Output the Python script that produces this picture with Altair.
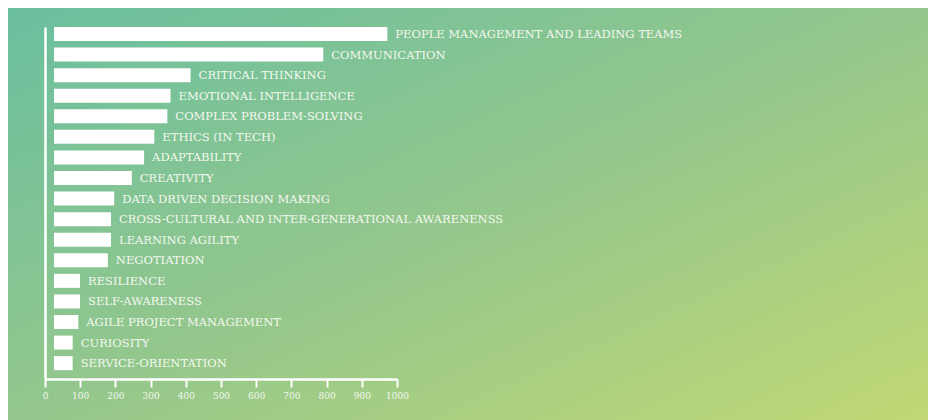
import altair as alt
import pandas as pd

skills = [
    "PEOPLE MANAGEMENT AND LEADING TEAMS",
    "COMMUNICATION",
    "CRITICAL THINKING",
    "EMOTIONAL INTELLIGENCE",
    "COMPLEX PROBLEM-SOLVING",
    "ETHICS (IN TECH)",
    "ADAPTABILITY",
    "CREATIVITY",
    "DATA DRIVEN DECISION MAKING",
    "CROSS-CULTURAL AND INTER-GENERATIONAL AWARENENSS",
    "LEARNING AGILITY",
    "NEGOTIATION",
    "RESILIENCE",
    "SELF-AWARENESS",
    "AGILE PROJECT MANAGEMENT",
    "CURIOSITY",
    "SERVICE-ORIENTATION",
]
values = [947, 765, 388, 331, 322, 285, 256, 221, 171, 162, 162, 153, 74, 74, 69, 53, 53]
tick_values = [0, 100, 200, 300, 400, 500, 600, 700, 800, 900, 1000]

df = pd.DataFrame({"skill": skills, "value": values})

W, H = 352, 352
PAD = {"left": 37, "top": 19, "right": 531, "bottom": 49}

gradient = alt.LinearGradient(
    gradient="linear",
    stops=[
        alt.GradientStop(color="#6abf9f", offset=0),
        alt.GradientStop(color="#94c78c", offset=0.5),
        alt.GradientStop(color="#c2d874", offset=1),
    ],
    x1=0, y1=0, x2=1, y2=1,
)

bg = alt.Chart(pd.DataFrame({"k": [0]})).mark_rect(color=gradient).encode(
    x=alt.value(-PAD["left"]),
    x2=alt.value(W + PAD["right"]),
    y=alt.value(-PAD["top"]),
    y2=alt.value(H + PAD["bottom"]),
)

x_axis = alt.Axis(
    values=tick_values,
    format="d",
    labelOverlap=False,
    labelFlush=False,
    title=None,
    grid=False,
    zindex=2,
    domainColor="white",
    domainWidth=2.5,
    tickColor="white",
    tickWidth=2,
    tickSize=8,
    labelColor="#f4f8ee",
    labelFont="DejaVu Serif",
    labelFontSize=9,
    labelPadding=4,
)
y_axis = alt.Axis(
    title=None,
    labels=False,
    ticks=False,
    grid=False,
    zindex=2,
    domainColor="white",
    domainWidth=2.5,
)

x_enc = alt.X("value:Q", scale=alt.Scale(domain=[0, 1000], nice=False), axis=x_axis)
y_enc = alt.Y(
    "skill:N",
    sort=skills,
    scale=alt.Scale(paddingInner=0.32, paddingOuter=0.215, align=0),
    axis=y_axis,
)

bars = alt.Chart(df).mark_bar(color="white", xOffset=9).encode(x=x_enc, y=y_enc)

labels = alt.Chart(df).mark_text(
    align="left",
    baseline="middle",
    dx=17,
    dy=1,
    font="DejaVu Serif",
    fontSize=11.5,
    color="#f4f8ef",
).encode(x=x_enc, y=y_enc, text="skill:N")

chart = (
    alt.layer(bg, bars, labels)
    .properties(
        width=W,
        height=H,
        padding=PAD,
        autosize=alt.AutoSizeParams(type="none"),
        background="#94c78c",
    )
    .configure_view(stroke=None)
)

chart.save("out.html", embed_options={"renderer": "svg", "actions": False})
